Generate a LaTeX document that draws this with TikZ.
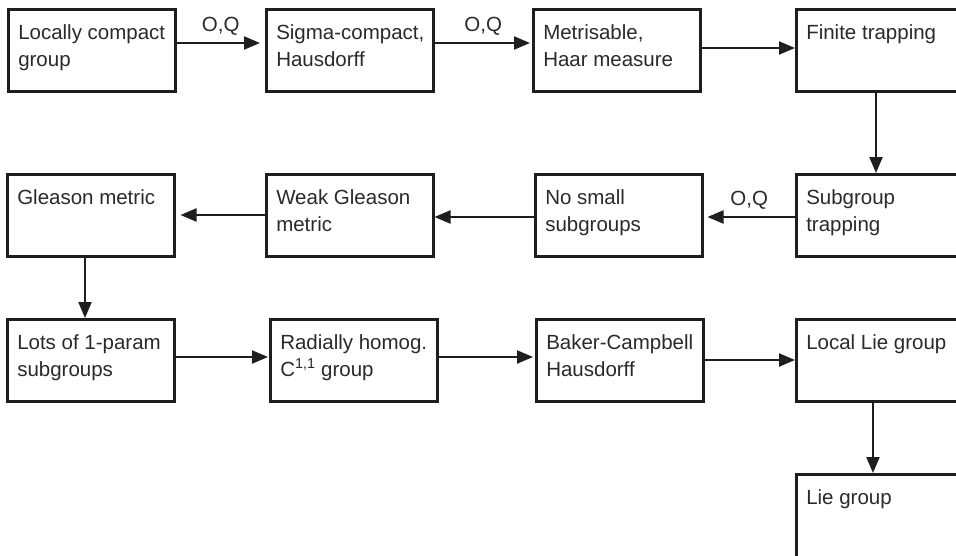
\documentclass[tikz,border=0pt]{standalone}
\usepackage{fontspec}
\setmainfont{Liberation Sans}
\usetikzlibrary{arrows.meta}
\definecolor{ink}{HTML}{1E1E1E}
\definecolor{txt}{HTML}{2A2A2A}
\newcommand{\bxt}[1]{\parbox[t]{167pt}{\raggedright\leftskip=10pt\relax #1}}
\tikzset{
  box/.style={draw=ink, line width=2.5pt, inner sep=0pt, text height=30pt, text depth=52pt,
    anchor=north west, font=\fontsize{20.5}{27}\selectfont, text=txt},
  arr/.style={draw=ink, line width=2.2pt, -{Triangle[length=16pt,width=13pt]}},
  lbl/.style={inner sep=0pt, text depth=0pt, anchor=south, yshift=10pt,
    font=\fontsize{20.5}{24}\selectfont, text=txt}
}
\begin{document}
\begin{tikzpicture}[x=1pt,y=-1pt]
\useasboundingbox (0,0) rectangle (956,555);
\clip (0,0) rectangle (956,555);
\fill[white] (0,0) rectangle (956,555);
% row 1
\node[box] (lc) at (7,8) {\bxt{Locally compact\\group}};
\node[box] (sc) at (265,8) {\bxt{Sigma-compact,\\Hausdorff}};
\node[box] (mh) at (532,8) {\bxt{Metrisable,\\Haar measure}};
\node[box] (ft) at (795,8) {\bxt{Finite trapping}};
% row 2
\node[box] (gm) at (6,173) {\bxt{Gleason metric}};
\node[box] (wg) at (265,173) {\bxt{Weak Gleason\\metric}};
\node[box] (ns) at (534,173) {\bxt{No small\\subgroups}};
\node[box] (st) at (795,173) {\bxt{Subgroup\\trapping}};
% row 3
\node[box] (lp) at (6,318) {\bxt{Lots of 1-param\\subgroups}};
\node[box] (rh) at (269,318) {\bxt{Radially homog.\\C\textsuperscript{1,1} group}};
\node[box] (bc) at (535,318) {\bxt{Baker-Campbell\\Hausdorff}};
\node[box] (ll) at (795,318) {\bxt{Local Lie group}};
% row 4
\node[box, text depth=62pt] (lg) at (795,473) {\bxt{Lie group}};
% connectors
\draw[arr, shorten >=5pt] (lc.east |- 0,43) -- node[lbl] (q1) {O,Q} (sc.west |- 0,43);
\draw[arr, shorten >=2pt] (sc.east |- 0,43) -- node[lbl] (q2) {O,Q} (mh.west |- 0,43);
\draw[arr] (mh.east |- 0,48) -- (ft.west |- 0,48);
\draw[arr] (ft.south -| 876,0) -- (st.north -| 876,0);
\draw[arr, shorten >=4pt] (st.west |- 0,217) -- node[lbl] (q3) {O,Q} (ns.east |- 0,217);
\draw[arr] (ns.west |- 0,217) -- (wg.east |- 0,217);
\draw[arr, shorten >=5pt] (wg.west |- 0,215) -- (gm.east |- 0,215);
\draw[arr] (gm.south -| 85,0) -- (lp.north -| 85,0);
\draw[arr, shorten >=1pt] (lp.east |- 0,357) -- (rh.west |- 0,357);
\draw[arr, shorten >=2pt] (rh.east |- 0,357) -- (bc.west |- 0,357);
\draw[arr] (bc.east |- 0,360) -- (ll.west |- 0,360);
\draw[arr] (ll.south -| 873,0) -- (lg.north -| 873,0);
\end{tikzpicture}
\end{document}
